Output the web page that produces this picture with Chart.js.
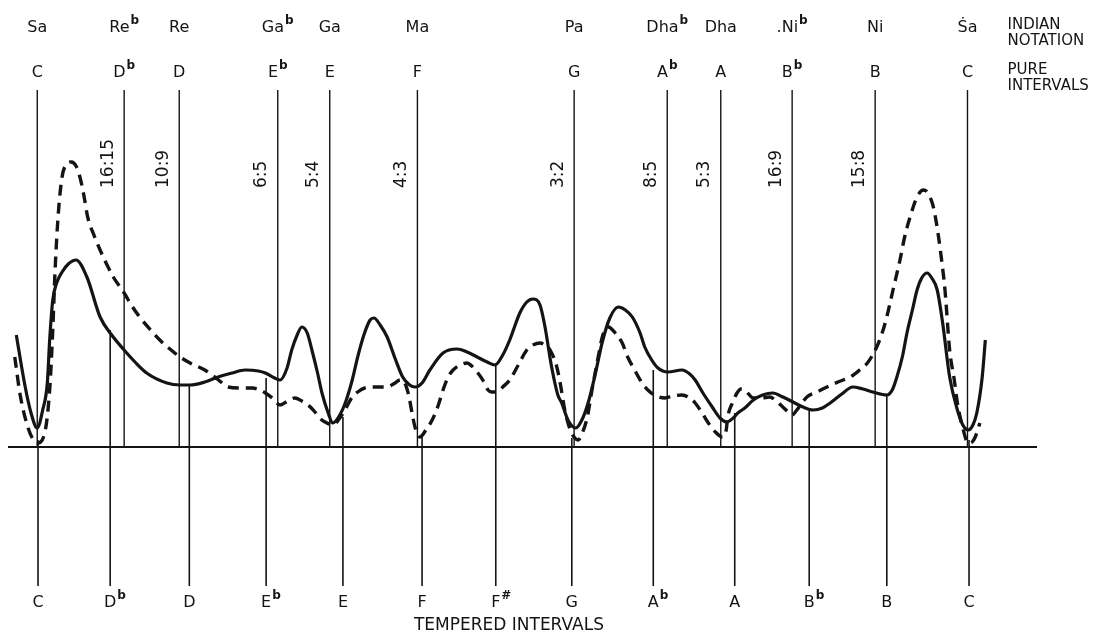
<!DOCTYPE html>
<html>
<head>
<meta charset="utf-8">
<script src="https://cdn.jsdelivr.net/npm/chart.js@4/dist/chart.umd.min.js"></script>
<style>
  html, body { margin: 0; padding: 0; background: #ffffff; }
  #wrap { width: 1110px; height: 636px; position: relative; }
</style>
</head>
<body>
<div id="wrap"><canvas id="chart"></canvas></div>
<script>
// ---------- DATA (x in cents above C, y in relative response units) ----------
// Solid curve
const solidCents = [-28,-17,-9,-1,6,12,15,19,24,31,39,49,63,80,95,111,125,140,166,183,196,215,232,250,267,284,293,305,312,321,327,334,340,347,353,360,366,374,380,389,396,405,412,420,428,433,441,450,460,470,479,486,495,505,522,540,553,566,579,589,599,608,621,630,638,647,653,662,670,675,683,693,701,709,718,727,737,748,757,766,776,782,791,799,812,830,840,847,857,869,879,888,896,902,911,922,934,947,960,973,986,999,1011,1021,1036,1050,1063,1076,1094,1101,1107,1114,1120,1127,1133,1139,1146,1152,1159,1166,1175,1185,1192,1199,1205,1210,1217,1221];
const solidLevel = [112,62,34,19,37,64,107,147,164,175,183,187,170,130,112,97,85,74,64,62,62,65,70,74,77,76,74,69,67,79,97,112,120,114,97,75,54,34,24,32,44,67,90,112,127,129,122,110,89,70,62,60,64,77,94,98,95,90,85,82,92,107,134,145,148,142,122,80,52,44,27,19,27,44,72,104,129,140,137,130,114,100,87,79,75,77,73,67,54,40,29,25,29,34,39,47,52,54,50,45,40,37,39,44,53,60,58,55,52,57,70,90,114,137,157,169,174,169,157,124,70,37,22,17,22,34,70,107];

// Dashed curve
const dashedCents = [-30,-23,-14,-6,-1,8,15,19,22,26,31,36,43,49,54,59,64,72,80,89,97,111,121,131,144,157,170,183,196,215,231,245,260,276,286,293,302,312,322,331,340,348,357,363,370,380,389,397,405,412,421,434,450,458,467,472,476,479,483,487,492,500,508,516,522,528,535,544,553,559,566,574,580,585,592,599,608,619,630,638,647,655,660,668,673,679,686,692,696,702,708,714,722,728,735,744,753,760,769,777,786,797,808,818,830,840,847,856,864,873,882,887,889,895,901,906,911,922,933,943,953,960,967,972,978,991,1004,1017,1031,1047,1059,1069,1075,1081,1088,1094,1102,1111,1117,1124,1133,1141,1147,1154,1159,1163,1169,1175,1181,1185,1191,1199,1204,1208,1214];
const dashedLevel = [90,52,22,7,4,12,57,117,177,232,270,282,285,281,270,252,230,212,197,182,170,154,141,130,118,107,98,90,84,77,68,60,59,59,57,54,49,42,46,49,46,42,35,29,25,22,29,39,50,55,59,60,60,63,67,65,57,47,30,17,10,17,27,42,57,69,77,82,84,81,75,66,57,55,55,60,67,82,97,102,104,101,97,82,64,37,17,9,7,15,30,57,90,112,120,114,104,90,77,66,57,51,49,51,52,49,44,34,24,15,10,17,30,44,54,58,57,49,49,50,45,40,35,32,37,50,55,60,65,70,77,84,91,100,114,130,157,187,210,230,250,257,254,240,219,197,157,97,67,44,22,4,5,10,24];

// Pure (just) intervals: Indian names, Western names, ratios, drawn positions
const indianNames  = ['Sa','Re','Re','Ga','Ga','Ma','Pa','Dha','Dha','.Ni','Ni','\u1E60a'];
const flatMarks    = ['', 'b', '', 'b', '', '', '', 'b', '', 'b', '', ''];
const pureNames    = ['C','D','D','E','E','F','G','A','A','B','B','C'];
const pureRatios   = ['', '16:15','10:9','6:5','5:4','4:3','3:2','8:5','5:3','16:9','15:8',''];
const pureCents    = [-1,111,182,309,376,489,691,811,880,972,1079,1198];

// Tempered intervals: names, accidentals, positions, height where each line stops
const temperedNames = ['C','D','D','E','E','F','F','G','A','A','B','B','C'];
const temperedMarks = ['', 'b', '', 'b', '', '', '#', '', 'b', '', 'b', '', ''];
const temperedCents = [0,93,195,294,393,495,590,688,793,898,994,1094,1200];
const temperedTop   = [7,117,62,69,30,10,84,9,77,34,37,52,7];

// Scale extents
const X_MIN = -38.7, X_MAX = 1287.6;
const Y_MIN = -139, Y_MAX = 357;

// ---------- BUILD DATASETS ----------
const INK = '#141414';
const datasets = [];
pureCents.forEach(c => datasets.push({
  data: [{x: c, y: 0}, {x: c, y: Y_MAX}],
  borderColor: INK, borderWidth: 1.4, showLine: true, pointRadius: 0, clip: false, order: 5
}));
temperedCents.forEach((c, i) => datasets.push({
  data: [{x: c, y: Y_MIN}, {x: c, y: temperedTop[i]}],
  borderColor: INK, borderWidth: 1.6, showLine: true, pointRadius: 0, clip: false, order: 5
}));
datasets.push({
  data: [{x: X_MIN, y: 0}, {x: X_MAX, y: 0}],
  borderColor: INK, borderWidth: 2, showLine: true, pointRadius: 0, clip: false, order: 4
});
datasets.push({
  label: 'solid',
  data: solidCents.map((c, i) => ({x: c, y: solidLevel[i]})),
  borderColor: INK, borderWidth: 3.2, showLine: true, pointRadius: 0,
  cubicInterpolationMode: 'monotone', clip: false, order: 1
});
datasets.push({
  label: 'dashed',
  data: dashedCents.map((c, i) => ({x: c, y: dashedLevel[i]})),
  borderColor: INK, borderWidth: 3.4, borderDash: [11, 7], showLine: true, pointRadius: 0,
  cubicInterpolationMode: 'monotone', clip: false, order: 2
});

// ---------- TEXT PLUGIN ----------
const FONT = '"DejaVu Sans", sans-serif';
function labelWithMark(ctx, text, mark, cx, cy, size, centerMode) {
  ctx.font = size + 'px ' + FONT;
  const w = ctx.measureText(text).width;
  let mw = 0;
  const markSize = Math.round(size * 0.72);
  if (mark) {
    ctx.font = 'bold ' + markSize + 'px ' + FONT;
    mw = ctx.measureText(mark).width + 1;
  }
  const left = centerMode === 'all' ? cx - (w + mw) / 2 : cx - w / 2;
  ctx.font = size + 'px ' + FONT;
  ctx.textAlign = 'left';
  ctx.textBaseline = 'middle';
  ctx.fillText(text, left, cy);
  if (mark) {
    ctx.font = 'bold ' + markSize + 'px ' + FONT;
    ctx.fillText(mark, left + w + 1, cy - size * 0.45);
  }
}

const textPlugin = {
  id: 'scoreText',
  afterDatasetsDraw(chart) {
    const ctx = chart.ctx;
    const xs = chart.scales.x;
    ctx.save();
    ctx.fillStyle = INK;
    // Indian notation row
    indianNames.forEach((n, i) => labelWithMark(ctx, n, flatMarks[i], xs.getPixelForValue(pureCents[i]), 28, 16, 'all'));
    // Pure interval names
    pureNames.forEach((n, i) => labelWithMark(ctx, n, flatMarks[i], xs.getPixelForValue(pureCents[i]), 73, 16, 'all'));
    // Right-side captions
    ctx.font = '15px ' + FONT;
    ctx.textAlign = 'left';
    ctx.textBaseline = 'middle';
    const capX = xs.getPixelForValue(pureCents[pureCents.length - 1]) + 40;
    ctx.fillText('INDIAN', capX, 25);
    ctx.fillText('NOTATION', capX, 41);
    ctx.fillText('PURE', capX, 70);
    ctx.fillText('INTERVALS', capX, 86);
    // Ratios, rotated
    ctx.font = '17px ' + FONT;
    pureRatios.forEach((r, i) => {
      if (!r) return;
      const px = xs.getPixelForValue(pureCents[i]) - 16;
      ctx.save();
      ctx.translate(px, 188);
      ctx.rotate(-Math.PI / 2);
      ctx.textAlign = 'left';
      ctx.textBaseline = 'middle';
      ctx.fillText(r, 0, 0);
      ctx.restore();
    });
    // Tempered labels
    temperedNames.forEach((n, i) => labelWithMark(ctx, n, temperedMarks[i], xs.getPixelForValue(temperedCents[i]), 603, 16, 'main'));
    ctx.font = '17px ' + FONT;
    ctx.textAlign = 'center';
    ctx.textBaseline = 'middle';
    ctx.fillText('TEMPERED INTERVALS', (xs.getPixelForValue(temperedCents[5]) + xs.getPixelForValue(temperedCents[7])) / 2 + 12, 626);
    ctx.restore();
  }
};

new Chart(document.getElementById('chart'), {
  type: 'scatter',
  data: { datasets },
  options: {
    responsive: true,
    maintainAspectRatio: false,
    animation: false,
    events: [],
    layout: { padding: { left: 8, right: 73, top: 90, bottom: 50 } },
    plugins: { legend: { display: false }, tooltip: { enabled: false } },
    scales: {
      x: { type: 'linear', min: X_MIN, max: X_MAX, display: false },
      y: { type: 'linear', min: Y_MIN, max: Y_MAX, display: false }
    }
  },
  plugins: [textPlugin]
});
</script>
</body>
</html>
